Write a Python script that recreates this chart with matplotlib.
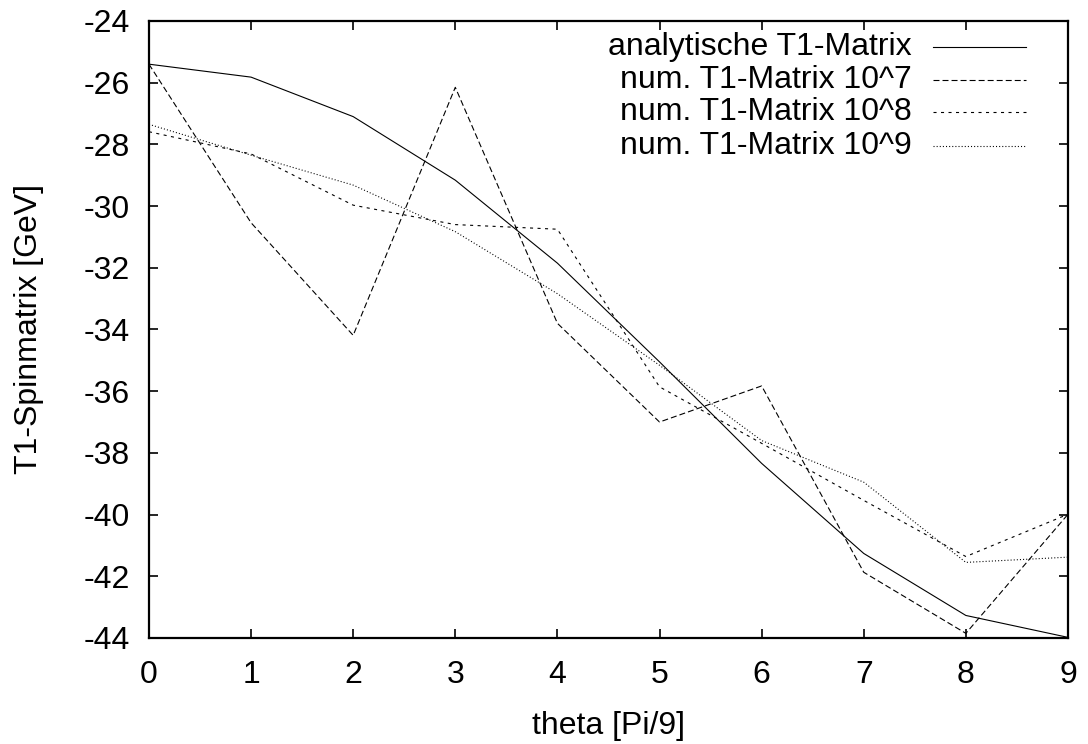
import matplotlib
matplotlib.use("Agg")
import matplotlib.pyplot as plt

plt.rcParams['font.family'] = ['Liberation Sans', 'DejaVu Sans']
plt.rcParams['axes.unicode_minus'] = False
plt.rcParams['lines.scale_dashes'] = False

theta = [0, 1, 2, 3, 4, 5, 6, 7, 8, 9]

analytic = [-25.40, -25.82, -27.10, -29.16, -31.85, -35.05, -38.34, -41.26, -43.27, -43.98]
num_1e7 = [-25.40, -30.54, -34.19, -26.15, -33.80, -37.00, -35.83, -41.87, -43.85, -39.99]
num_1e8 = [-27.59, -28.31, -29.97, -30.60, -30.75, -35.86, -37.69, -39.54, -41.36, -39.99]
num_1e9 = [-27.35, -28.35, -29.32, -30.83, -32.84, -35.16, -37.60, -38.95, -41.55, -41.38]

labels = ["analytische T1-Matrix", "num. T1-Matrix 10^7",
          "num. T1-Matrix 10^8", "num. T1-Matrix 10^9"]

# gnuplot-like line styles (dash lengths in points)
styles = [
    dict(linestyle='-'),
    dict(linestyle=(0, (4.3, 2.2))),
    dict(linestyle=(0, (2.2, 3.2))),
    dict(linestyle=(0, (0.75, 1.5))),
]

fs = 23

fig = plt.figure(figsize=(10.88, 7.44), dpi=100)
ax = fig.add_axes([0.1369, 0.1425, 0.8447, 0.8293])

series = [analytic, num_1e7, num_1e8, num_1e9]
for ys, st in zip(series, styles):
    ax.plot(theta, ys, color='black', linewidth=0.8, **st)

ax.set_xlim(0, 9)
ax.set_ylim(-44, -24)
ax.set_xticks(range(0, 10))
ax.set_yticks(range(-44, -23, 2))

for sp in ax.spines.values():
    sp.set_linewidth(1.6)
ax.tick_params(direction='in', length=6.5, width=1.2, labelsize=fs,
               top=True, right=True)
ax.tick_params(axis='x', pad=16)
ax.tick_params(axis='y', pad=14)

ax.set_xlabel("theta [Pi/9]", fontsize=fs, labelpad=15)
ax.set_ylabel("T1-Spinmatrix [GeV]", fontsize=fs, labelpad=28)

# key in the upper right, text right-aligned before the line sample
rows = [0.958, 0.904, 0.8525, 0.798]
for lab, st, yk in zip(labels, styles, rows):
    ax.text(0.830, yk, lab, transform=ax.transAxes, ha='right', va='center',
            fontsize=fs)
    ax.plot([0.853, 0.954], [yk, yk], transform=ax.transAxes,
            color='black', linewidth=0.8, **st)

fig.savefig("out.png", dpi=100)
